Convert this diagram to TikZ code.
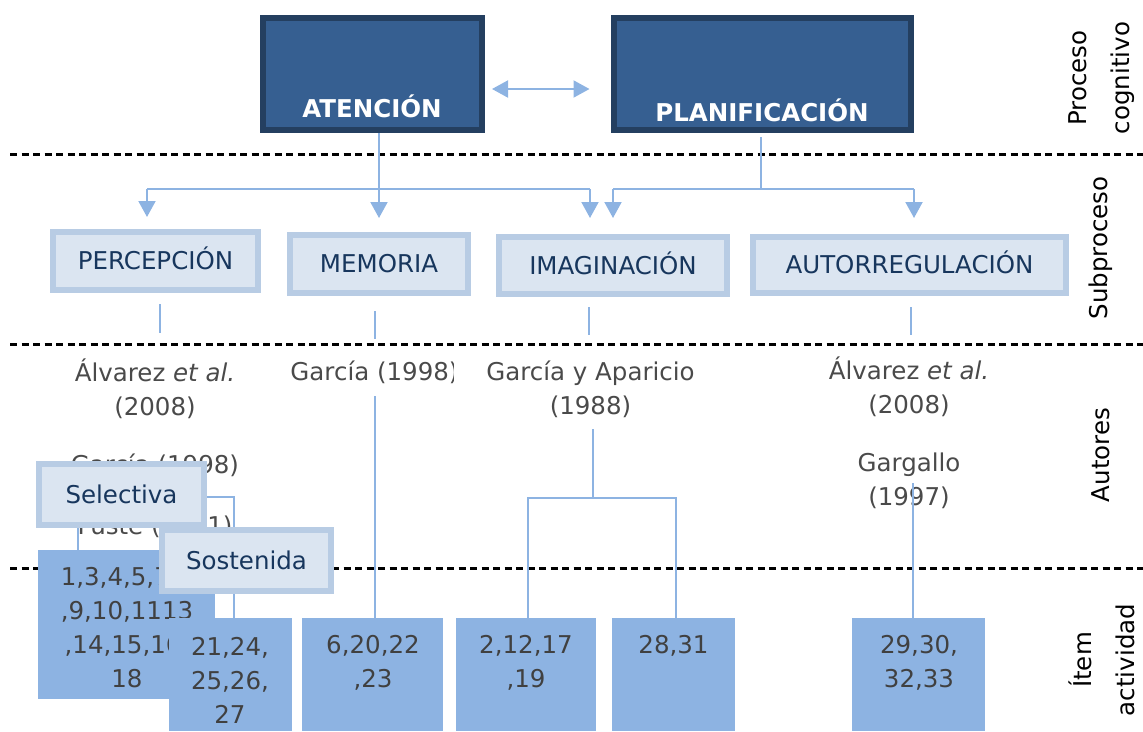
\documentclass[tikz,border=0pt]{standalone}
\usepackage{fontspec}
\setmainfont{DejaVu Sans}
\usetikzlibrary{arrows.meta,calc}
\definecolor{dkfill}{HTML}{365F91}
\definecolor{dkline}{HTML}{243F60}
\definecolor{ltfill}{HTML}{DBE5F1}
\definecolor{ltline}{HTML}{B8CCE4}
\definecolor{itemfill}{HTML}{8DB3E2}
\definecolor{conn}{HTML}{8DB3E2}
\definecolor{txtgrey}{HTML}{404040}
\definecolor{authgrey}{HTML}{4A4A4A}
\definecolor{subtxt}{HTML}{17365D}
\newcommand\txtsize{\fontsize{24.5}{34}\selectfont}
\begin{document}
\begin{tikzpicture}[x=1pt,y=-1pt,
  every node/.style={inner sep=0pt, outer sep=0pt},
  sepline/.style={black, line width=3pt, dash pattern=on 7pt off 4.5pt},
  link/.style={conn, line width=2pt},
  arr/.style={link, -{Triangle[width=17pt,length=16pt]}},
  darr/.style={link, {Triangle[width=17pt,length=16pt]}-{Triangle[width=17pt,length=16pt]}},
  procbox/.style={draw=dkline, fill=dkfill, line width=6pt},
  proctxt/.style={text=white, font=\bfseries\txtsize},
  subbox/.style={draw=ltline, fill=ltfill, line width=6pt, text=subtxt, font=\txtsize, text height=17.5pt, text depth=0pt},
  itembox/.style={fill=itemfill},
  itemtxt/.style={text=txtgrey, font=\txtsize, align=center},
  auth/.style={text=authgrey, font=\txtsize, align=center},
  side/.style={black, font=\fontsize{24.5}{43}\selectfont, align=center, rotate=90},
]
\useasboundingbox (0,0) rectangle (1143,731);

% separators
\draw[sepline] (10,154) -- (1143,154);
\draw[sepline] (10,344) -- (1143,344);
\draw[sepline] (10,568) -- (1143,568);

% side labels
\node[side] (l1) at (1102,78) {Proceso\\cognitivo};
\node[side] (l2) at (1101,248) {Subproceso};
\node[side] (l3) at (1101,455) {Autores};
\node[side] (l4) at (1102,660) {Ítem\\actividad};

% process boxes
\node[procbox, minimum width=219, minimum height=112] (aten) at (372.5,74) {};
\node[procbox, minimum width=297, minimum height=112] (plan) at (762.5,74) {};
\node[proctxt] (atxt) at (372,106) {ATENCIÓN};
\node[proctxt] (ptxt) at (762,110) {PLANIFICACIÓN};

% subprocess boxes
\node[subbox, minimum width=205, minimum height=58] (perc) at (155.5,261) {PERCEPCIÓN};
\node[subbox, minimum width=178, minimum height=58] (memo) at (379,264) {MEMORIA};
\node[subbox, minimum width=228, minimum height=57] (imag) at (613,265.5) {IMAGINACIÓN};
\node[subbox, minimum width=313, minimum height=56] (auto) at (909.5,265) {AUTORREGULACIÓN};

% top connectors
\coordinate (hA) at (379,189);
\coordinate (hL) at (147,189);
\coordinate (hR) at (590,189);
\coordinate (hP) at (761,189);
\coordinate (hPL) at (613,189);
\coordinate (hPR) at (914,189);
\draw[darr] ($(aten.east)+(10,15)$) -- ($(plan.west)+(-24.5,15)$);
\draw[link] ($(aten.south -| hA)+(0,3)$) -- (hA);
\draw[link] (hL) -- (hR);
\draw[arr] (hL) -- ($(perc.north -| hL)+(0,-15)$);
\draw[arr] (hA) -- ($(memo.north -| hA)+(0,-17)$);
\draw[arr] (hR) -- ($(imag.north -| hR)+(0,-19)$);
\draw[link] ($(plan.south -| hP)+(0,7)$) -- (hP);
\draw[link] (hPL) -- (hPR);
\draw[arr] (hPL) -- ($(imag.north -| hPL)+(0,-19)$);
\draw[arr] (hPR) -- ($(auto.north -| hPR)+(0,-19)$);

% short stubs below subprocess boxes
\draw[link] ($(perc.south)+(4.5,14)$) -- ($(perc.south)+(4.5,43)$);
\draw[link] ($(memo.south)+(-4,18)$) -- ($(memo.south)+(-4,46)$);
\draw[link] ($(imag.south)+(-24,13)$) -- ($(imag.south)+(-24,41)$);
\draw[link] ($(auto.south)+(1.5,14)$) -- ($(auto.south)+(1.5,42)$);

% authors
\node[auth] (a1) at (155,389) {Álvarez \textit{et al.}\\(2008)};
\begin{scope}
\clip (280,350) rectangle (453,400);
\node[auth] (a2) at (374.5,372) {García (1998)};
\end{scope}
\node[auth] (a3) at (590.5,389) {García y Aparicio\\(1988)};
\node[auth] (a4) at (909,387) {Álvarez \textit{et al.}\\(2008)};
\node[auth] (a5) at (909,481) {Gargallo\\(1997)};
\node[auth] (a6) at (155,465) {García (1998)};
\node[auth] (a7) at (155,527) {Fuste (2001)};

% item boxes
\node[itembox, minimum width=177, minimum height=149] (b1) at (126.5,624.5) {};
\node[itemtxt] (t1) at (127,628) {1,3,4,5,7,8\\,9,10,1113\\,14,15,16,\\18};
\node[itembox, minimum width=123, minimum height=113] (b2) at (230.5,674.5) {};
\node[itemtxt] (t2) at (230,680) {21,24,\\25,26,\\27};
\node[itembox, minimum width=141, minimum height=113] (b3) at (372.5,674.5) {};
\node[itemtxt] (t3) at (373,663) {6,20,22\\,23};
\node[itembox, minimum width=140, minimum height=113] (b4) at (526,674.5) {};
\node[itemtxt] (t4) at (526,663) {2,12,17\\,19};
\node[itembox, minimum width=123, minimum height=113] (b5) at (673.5,674.5) {};
\node[itemtxt] (t5) at (673.5,646) {28,31};
\node[itembox, minimum width=133, minimum height=113] (b6) at (918.5,674.5) {};
\node[itemtxt] (t6) at (919,663) {29,30,\\32,33};

% lower connectors
\coordinate (mt) at (375,396);
\draw[link] (mt) -- (b3.north -| mt);
\coordinate (it) at (593,429);
\coordinate (ij) at (593,498);
\coordinate (il) at (528,498);
\coordinate (ir) at (676,498);
\draw[link] (it) -- (ij);
\draw[link] (b4.north -| il) -- (il) -- (ir) -- (b5.north -| ir);
\coordinate (gt) at (913,483);
\draw[link] (gt) -- (b6.north -| gt);
\coordinate (pl) at (78,497);
\coordinate (pr) at (234,497);
\draw[link] (b1.north -| pl) -- (pl) -- (pr) -- (b2.north -| pr);

% attention subtype boxes
\node[subbox, minimum width=165, minimum height=61] (sel) at (121.5,494.5) {Selectiva};
\node[subbox, minimum width=169, minimum height=61] (sos) at (246.5,560.5) {Sostenida};
\end{tikzpicture}
\end{document}
